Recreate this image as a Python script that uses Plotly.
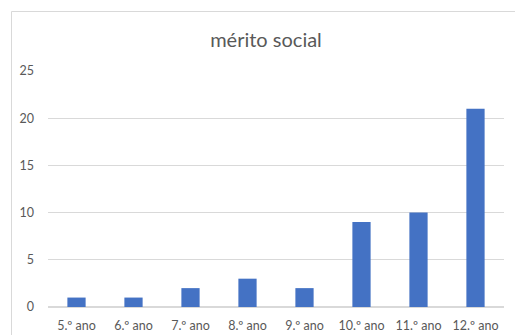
import plotly.graph_objects as go

categories = ["5.º ano", "6.º ano", "7.º ano", "8.º ano", "9.º ano", "10.º ano", "11.º ano", "12.º ano"]
values = [1, 1, 2, 3, 2, 9, 10, 21]
y_ticks = [0, 5, 10, 15, 20, 25]

W, H = 515, 335
L, R, T, B = 48, 11, 71, 28
pw, ph = W - L - R, H - T - B

def px(x):
    return (x - L) / pw

def py(y):
    return (H - B - y) / ph

fig = go.Figure(go.Bar(x=categories, y=values, marker_color="#4472C4", marker_line_width=0))

fig.update_layout(
    width=W, height=H,
    margin=dict(l=L, r=R, t=T, b=B),
    paper_bgcolor="white", plot_bgcolor="white",
    bargap=0.68,
    showlegend=False,
    font=dict(family="Lato, Open Sans, sans-serif", color="#595959", size=12),
    title=dict(text="mérito social", x=266 / W, xanchor="center", y=1 - 40 / H, yanchor="middle",
               font=dict(size=20, color="#595959")),
    xaxis=dict(showgrid=False, showline=False, ticks="", tickfont=dict(size=12.5, color="#595959"),
               ticklabelstandoff=9, automargin=False),
    yaxis=dict(range=[0, 25], tickvals=y_ticks, showgrid=True, gridcolor="#d9d9d9", gridwidth=1,
               zeroline=True, zerolinecolor="#d9d9d9", showline=False, ticks="",
               tickfont=dict(size=12.5, color="#595959"), ticklabelstandoff=13, automargin=False),
    shapes=[dict(type="rect", xref="paper", yref="paper",
                 x0=px(11.5), x1=px(530), y0=py(345), y1=py(11.5),
                 line=dict(color="#d9d9d9", width=1), fillcolor="rgba(0,0,0,0)", layer="below")],
)

fig.write_html("out.html")
